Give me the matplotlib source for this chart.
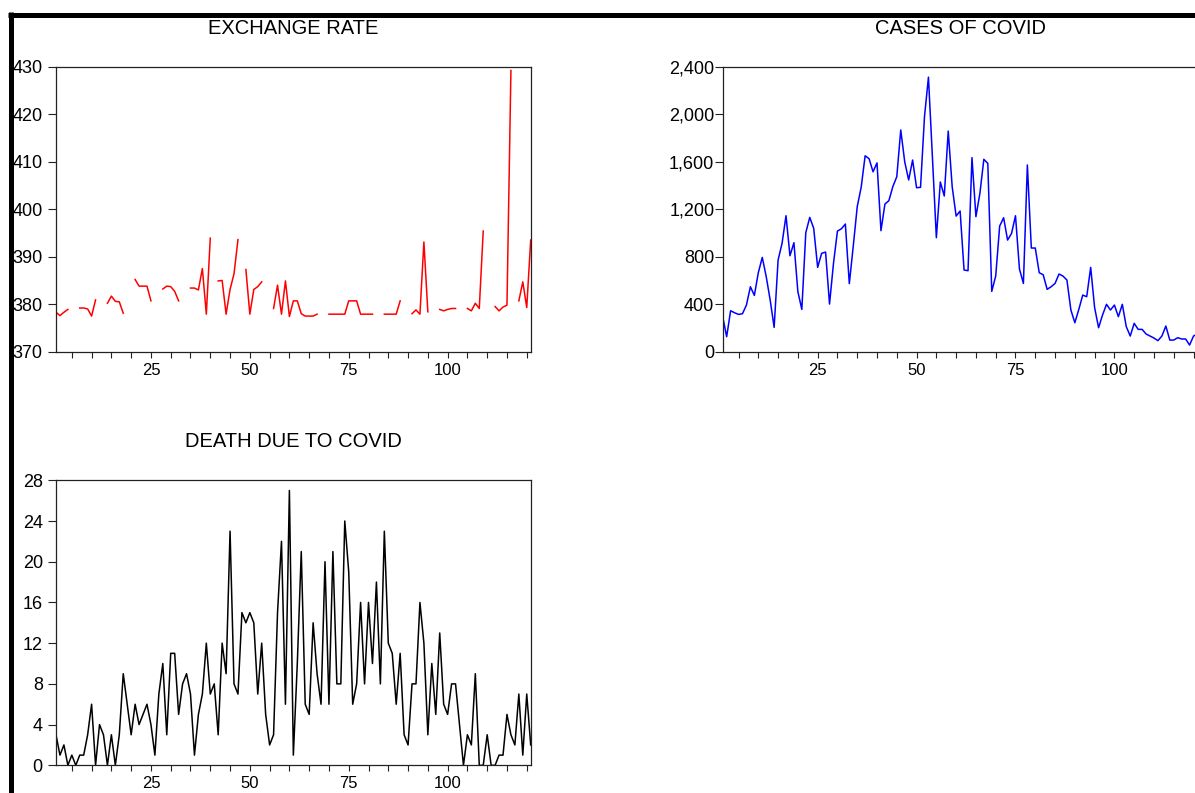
import numpy as np
import matplotlib
matplotlib.use("Agg")
import matplotlib.pyplot as plt
from matplotlib.lines import Line2D
from matplotlib.ticker import FixedLocator, FuncFormatter

plt.rcParams["font.family"] = ["Liberation Sans", "DejaVu Sans"]

# -----------------------------
# 1. Data (observations 1..121)
# -----------------------------
nan = np.nan
obs = np.arange(1, 122)

exchange_rate = [
    378.3, 377.6, 378.3, 378.9, nan, nan, 379.2, 379.2, 379.0, 377.5,
    380.9, nan, nan, 380.2, 381.7, 380.6, 380.5, 378.1, nan, nan,
    385.2, 383.8, 383.8, 383.8, 380.7, nan, nan, 383.2, 383.8, 383.7,
    382.7, 380.7, nan, nan, 383.4, 383.4, 383.0, 387.5, 377.9, 393.9,
    nan, 384.9, 385.0, 377.9, 383.1, 386.4, 393.6, nan, 387.3, 377.9,
    383.1, 383.7, 384.7, nan, nan, 379.1, 384.0, 377.9, 384.9, 377.4,
    380.7, 380.7, 378.0, 377.5, 377.5, 377.5, 377.9, nan, nan, 377.9,
    377.9, 377.9, 377.9, 377.9, 380.7, 380.7, 380.7, 377.9, 377.9, 377.9,
    377.9, nan, nan, 377.9, 377.9, 377.9, 377.9, 380.7, nan, nan,
    378.0, 378.8, 377.9, 393.1, 378.4, nan, nan, 378.9, 378.6, 378.9,
    379.1, 379.1, nan, nan, 379.1, 378.6, 380.2, 379.1, 395.4, nan,
    nan, 379.5, 378.6, 379.4, 379.8, 429.2, nan, 380.7, 384.7, 379.3,
    393.5,
]

covid_cases = [
    295, 126, 345, 328, 314, 320, 393, 547, 474, 665,
    794, 632, 435, 205, 772, 912, 1145, 808, 918, 505,
    356, 1002, 1131, 1039, 710, 828, 839, 401, 744, 1016,
    1035, 1075, 573, 890, 1221, 1385, 1650, 1625, 1515, 1590,
    1019, 1243, 1272, 1390, 1474, 1867, 1600, 1446, 1614, 1381,
    1384, 1979, 2312, 1640, 960, 1429, 1311, 1858, 1389, 1142,
    1185, 688, 682, 1634, 1137, 1333, 1620, 1586, 508, 637,
    1058, 1128, 940, 996, 1145, 696, 575, 1572, 873, 873,
    665, 648, 525, 547, 575, 654, 637, 603, 351, 244,
    356, 477, 463, 710, 371, 202, 309, 399, 351, 393,
    295, 399, 211, 132, 239, 188, 188, 149, 132, 115,
    93, 132, 216, 98, 98, 118, 107, 107, 56, 132,
    150,
]

covid_deaths = [
    3, 1, 2, 0, 1, 0, 1, 1, 3, 6,
    0, 4, 3, 0, 3, 0, 3, 9, 6, 3,
    6, 4, 5, 6, 4, 1, 7, 10, 3, 11,
    11, 5, 8, 9, 7, 1, 5, 7, 12, 7,
    8, 3, 12, 9, 23, 8, 7, 15, 14, 15,
    14, 7, 12, 5, 2, 3, 15, 22, 6, 27,
    1, 10, 21, 6, 5, 14, 9, 6, 20, 6,
    21, 8, 8, 24, 19, 6, 8, 16, 8, 16,
    10, 18, 8, 23, 12, 11, 6, 11, 3, 2,
    8, 8, 16, 12, 3, 10, 5, 13, 6, 5,
    8, 8, 4, 0, 3, 2, 9, 0, 0, 3,
    0, 0, 1, 1, 5, 3, 2, 7, 1, 7,
    2,
]

# -----------------------------
# 2. Figure + panel layout (EViews style)
# -----------------------------
W, H = 1195, 793
fig = plt.figure(figsize=(W / 100, H / 100), dpi=100)
fig.patch.set_facecolor("white")


def px_axes(left, top, right, bottom):
    return fig.add_axes([left / W, 1 - bottom / H, (right - left) / W, (bottom - top) / H])


def style_panel(ax, title, ylim, yticks, ylabel_pad, yfmt):
    ax.set_xlim(1, 121)
    ax.set_ylim(*ylim)
    for s in ax.spines.values():
        s.set_linewidth(0.9)
        s.set_color("#222222")
    ax.xaxis.set_major_locator(FixedLocator(np.arange(5, 121, 5)))
    ax.xaxis.set_major_formatter(
        FuncFormatter(lambda v, p: f"{int(v)}" if int(v) % 25 == 0 else "")
    )
    ax.set_yticks(yticks)
    ax.yaxis.set_major_formatter(FuncFormatter(yfmt))
    ax.tick_params(axis="x", direction="out", length=4, width=0.8,
                   labelsize=12, pad=4, colors="#222222", labelcolor="black")
    ax.tick_params(axis="y", direction="out", length=5.5, width=0.8,
                   labelsize=13, pad=ylabel_pad, colors="#222222", labelcolor="black")
    ax.text(0.5, 1 + 38.7 / 285, title, transform=ax.transAxes,
            ha="center", va="center", fontsize=14.5)


# Exchange rate
ax1 = px_axes(56, 66.7, 530.7, 351.7)
ax1.plot(obs, exchange_rate, color="#FF0000", lw=1.1)
style_panel(ax1, "EXCHANGE RATE", (370, 430), np.arange(370, 431, 10), 4,
            lambda v, p: f"{int(v)}")

# Covid cases
ax2 = px_axes(722.7, 66.7, 1197.5, 351.7)
ax2.plot(obs, covid_cases, color="#0000FF", lw=1.1)
style_panel(ax2, "CASES OF COVID", (0, 2400), np.arange(0, 2401, 400), 0.5,
            lambda v, p: f"{int(v):,}")

# Covid deaths
ax3 = px_axes(56, 480.3, 530.7, 765.3)
ax3.plot(obs, covid_deaths, color="black", lw=1.1)
style_panel(ax3, "DEATH DUE TO COVID", (0, 28), np.arange(0, 29, 4), 4,
            lambda v, p: f"{int(v)}")

# Thick frame lines (top and left)
fig.add_artist(Line2D([10.8 / W, 10.8 / W], [0, 1 - 12.3 / H],
                      transform=fig.transFigure, color="black", lw=3.6,
                      solid_capstyle="butt"))
fig.add_artist(Line2D([8.3 / W, 1], [1 - 14.8 / H, 1 - 14.8 / H],
                      transform=fig.transFigure, color="black", lw=3.6,
                      solid_capstyle="butt"))

fig.savefig("out.png", dpi=100)
